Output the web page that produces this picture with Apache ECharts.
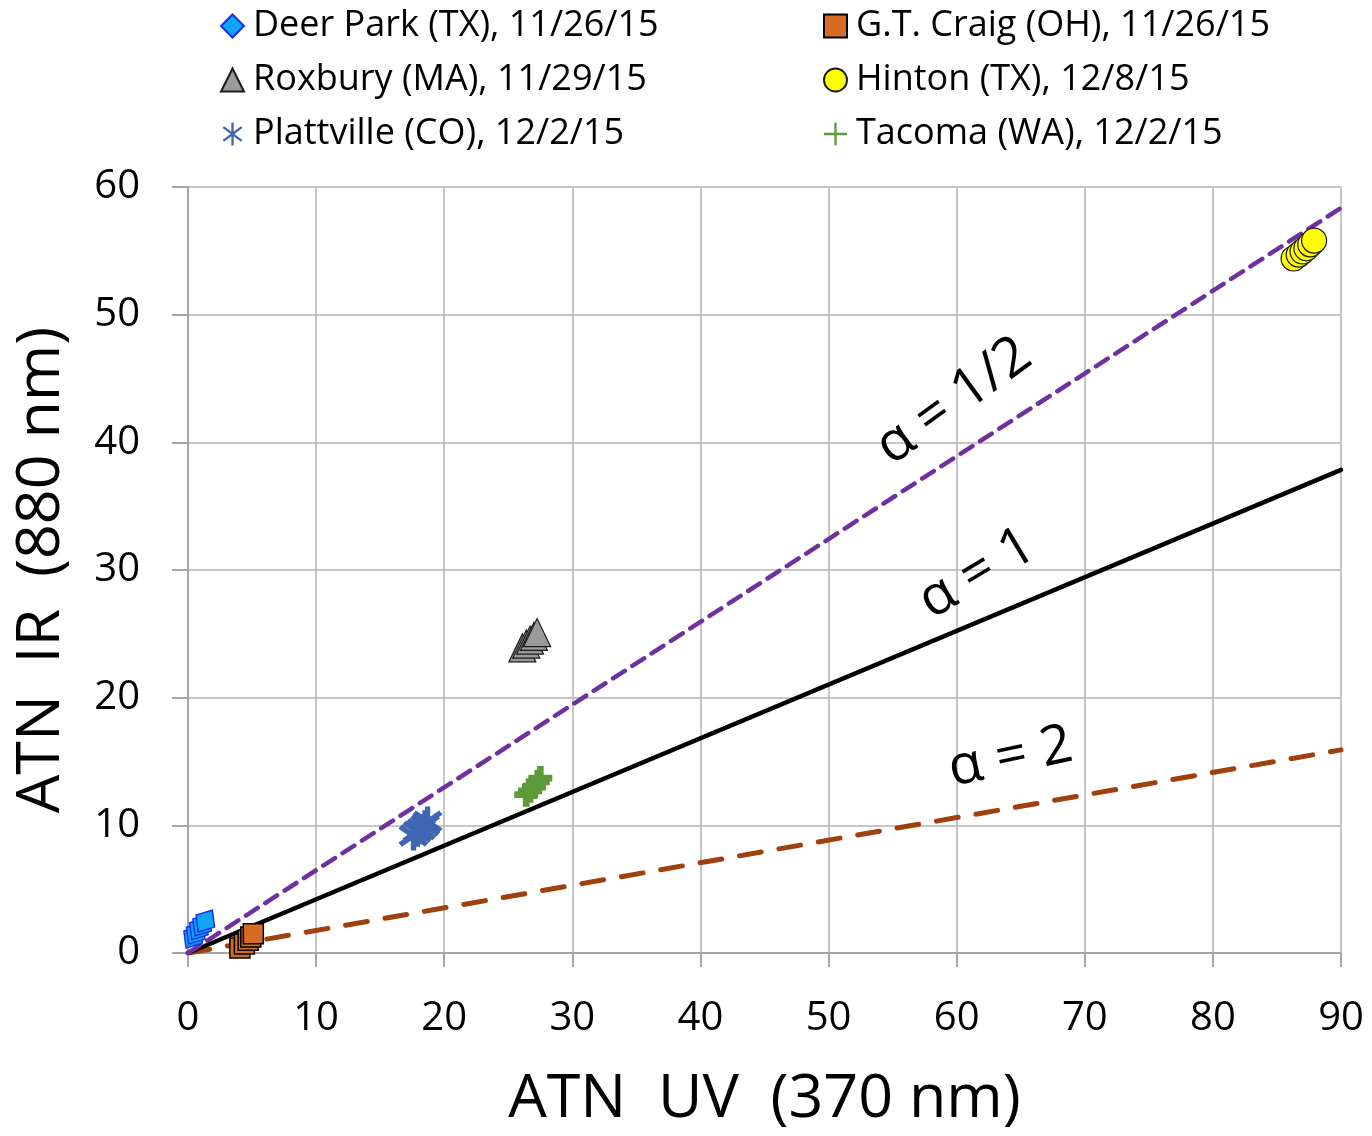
<!DOCTYPE html>
<html>
<head>
<meta charset="utf-8">
<script src="https://cdn.jsdelivr.net/npm/echarts@6/dist/echarts.min.js"></script>
<style>
  html, body { margin: 0; padding: 0; background: #fff; }
  #chart { width: 1372px; height: 1136px; }
</style>
</head>
<body>
<div id="chart"></div>
<script>
// Attenuation samples: [ATN UV (370 nm), ATN IR (880 nm)]
const deerPark = [[0.4, 1.25], [0.6, 1.55], [0.85, 1.9], [1.1, 2.2], [1.35, 2.5]];
const gtCraig = [[4.05, 0.4], [4.4, 0.7], [4.7, 1.0], [4.9, 1.25], [5.1, 1.5]];
const roxbury = [[26.1, 23.9], [26.4, 24.2], [26.7, 24.5], [27.0, 24.8], [27.25, 25.1]];
const hinton = [[86.3, 54.4], [86.7, 54.7], [87.0, 54.95], [87.3, 55.2], [87.6, 55.5], [87.9, 55.8]];
const plattville = [[17.6, 9.2], [17.9, 9.5], [18.2, 9.7], [18.5, 10.0], [18.7, 10.3]];
const tacoma = [[26.4, 12.4], [26.7, 12.7], [27.0, 13.0], [27.3, 13.4], [27.5, 13.7]];

// Reference lines ATN_IR = ATN_UV * (370/880)^alpha, end points at 0 and 90
const lineHalf = [[0, 0], [90, 58.36]];
const lineOne = [[0, 0], [90, 37.84]];
const lineTwo = [[0, 0], [90, 15.91]];

// Line captions placed at data coordinates
const captionHalf = [[59.8, 43.2]];
const captionOne = [[61.6, 29.7]];
const captionTwo = [[64.2, 15.3]];

const xTicks = [0, 10, 20, 30, 40, 50, 60, 70, 80, 90];
const yTicks = [0, 10, 20, 30, 40, 50, 60];

const FONT = 'Open Sans';

const asteriskThin = 'path://M4.5,0L5.5,0L5.5,10L4.5,10Z M1.3,1.6L9.3,7.6L8.7,8.4L0.7,2.4Z M0.7,7.6L8.7,1.6L9.3,2.4L1.3,8.4Z';
const asteriskThick = 'path://M4.2,0L5.8,0L5.8,10L4.2,10Z M1.5,1.3L9.5,7.3L8.5,8.7L0.5,2.7Z M0.5,7.3L8.5,1.3L9.5,2.7L1.5,8.7Z';
const plusThin = 'path://M4.5,0L5.5,0L5.5,4.5L10,4.5L10,5.5L5.5,5.5L5.5,10L4.5,10L4.5,5.5L0,5.5L0,4.5L4.5,4.5Z';
const plusThick = 'path://M3.6,0L6.4,0L6.4,3.6L10,3.6L10,6.4L6.4,6.4L6.4,10L3.6,10L3.6,6.4L0,6.4L0,3.6L3.6,3.6Z';

const chart = echarts.init(document.getElementById('chart'), null, { renderer: 'canvas' });

function caption(data, text, angle) {
  return {
    type: 'scatter',
    data: data,
    symbolSize: 1,
    silent: true,
    z: 5,
    itemStyle: { opacity: 1, color: 'rgba(0,0,0,0)' },
    label: {
      show: true,
      position: 'inside',
      formatter: text,
      rotate: angle,
      color: '#000',
      opacity: 1,
      fontFamily: FONT,
      fontSize: 55
    }
  };
}

function refLine(name, data, color, width, dash) {
  return {
    name: name,
    type: 'line',
    data: data,
    showSymbol: false,
    symbol: 'none',
    silent: true,
    z: 2,
    lineStyle: { color: color, width: width, type: dash, cap: 'round' }
  };
}

const legendText = { fontFamily: FONT, fontSize: 36, color: '#000', padding: [0, 0, 0, 4] };

const option = {
  backgroundColor: '#fff',
  animation: false,
  grid: { left: 188, right: 31, top: 187, bottom: 183, containLabel: false, outerBoundsMode: 'none' },
  legend: [
    {
      orient: 'vertical',
      left: 215,
      top: 3,
      itemGap: 18,
      itemWidth: 23,
      itemHeight: 23,
      textStyle: legendText,
      data: [
        { name: 'Deer Park (TX), 11/26/15', icon: 'diamond' },
        { name: 'Roxbury (MA), 11/29/15', icon: 'triangle' },
        { name: 'Plattville (CO), 12/2/15', icon: asteriskThin }
      ]
    },
    {
      orient: 'vertical',
      left: 818,
      top: 3,
      itemGap: 18,
      itemWidth: 23,
      itemHeight: 23,
      textStyle: legendText,
      data: [
        { name: 'G.T. Craig (OH), 11/26/15', icon: 'rect' },
        { name: 'Hinton (TX), 12/8/15', icon: 'circle' },
        { name: 'Tacoma (WA), 12/2/15', icon: plusThin }
      ]
    }
  ],
  xAxis: {
    type: 'value',
    min: 0,
    max: 90,
    interval: 10,
    name: 'ATN  UV  (370 nm)',
    nameLocation: 'middle',
    nameGap: 116,
    nameTextStyle: { fontFamily: FONT, fontSize: 61, color: '#000' },
    axisLine: { show: true, lineStyle: { color: '#a6a6a6', width: 2 } },
    axisTick: { show: true, length: 14, lineStyle: { color: '#a6a6a6', width: 2 } },
    splitLine: { show: true, lineStyle: { color: '#b3b3b3', width: 1.5 } },
    axisLabel: {
      margin: 46,
      fontFamily: FONT,
      fontSize: 40,
      color: '#000',
      formatter: v => (xTicks.indexOf(v) >= 0 ? String(v) : '')
    }
  },
  yAxis: {
    type: 'value',
    min: 0,
    max: 60,
    interval: 10,
    name: 'ATN  IR  (880 nm)',
    nameLocation: 'middle',
    nameGap: 116,
    nameTextStyle: { fontFamily: FONT, fontSize: 61, color: '#000' },
    axisLine: { show: true, lineStyle: { color: '#a6a6a6', width: 2 } },
    axisTick: { show: true, length: 16, lineStyle: { color: '#a6a6a6', width: 2 } },
    splitLine: { show: true, lineStyle: { color: '#b3b3b3', width: 1.5 } },
    axisLabel: {
      margin: 48,
      fontFamily: FONT,
      fontSize: 40,
      color: '#000',
      formatter: v => (yTicks.indexOf(v) >= 0 ? String(v) : '')
    }
  },
  series: [
    refLine('alphaTwo', lineTwo, '#a0400c', 5, [22, 18]),
    refLine('alphaOne', lineOne, '#000000', 4.5, 'solid'),
    refLine('alphaHalf', lineHalf, '#7030a0', 4.5, [14, 9]),
    {
      name: 'Deer Park (TX), 11/26/15',
      type: 'scatter',
      data: deerPark,
      symbol: 'diamond',
      symbolSize: [22, 26],
      symbolRotate: -33,
      z: 4,
      itemStyle: { color: '#0ea5f7', borderColor: '#1432ee', borderWidth: 1.5, opacity: 1 }
    },
    {
      name: 'G.T. Craig (OH), 11/26/15',
      type: 'scatter',
      data: gtCraig,
      symbol: 'rect',
      symbolSize: 20,
      z: 4,
      itemStyle: { color: '#d76b26', borderColor: '#000', borderWidth: 1.5, opacity: 1 }
    },
    {
      name: 'Roxbury (MA), 11/29/15',
      type: 'scatter',
      data: roxbury,
      symbol: 'triangle',
      symbolSize: [27, 28],
      z: 4,
      itemStyle: { color: '#9a9a9a', borderColor: '#1a1a1a', borderWidth: 1.2, opacity: 1 }
    },
    {
      name: 'Hinton (TX), 12/8/15',
      type: 'scatter',
      data: hinton,
      symbol: 'circle',
      symbolSize: 25,
      z: 4,
      itemStyle: { color: '#ffff00', borderColor: '#1a1a1a', borderWidth: 1.2, opacity: 1 }
    },
    {
      name: 'Plattville (CO), 12/2/15',
      type: 'scatter',
      data: plattville,
      symbol: asteriskThick,
      symbolSize: 30,
      z: 4,
      itemStyle: { color: '#3e66b2', opacity: 1 }
    },
    {
      name: 'Tacoma (WA), 12/2/15',
      type: 'scatter',
      data: tacoma,
      symbol: plusThick,
      symbolSize: 24,
      z: 4,
      itemStyle: { color: '#5f9a3a', opacity: 1 }
    },
    caption(captionHalf, 'α = 1/2', 36),
    caption(captionOne, 'α = 1', 31),
    caption(captionTwo, 'α = 2', 12)
  ]
};

chart.setOption(option);
</script>
</body>
</html>
